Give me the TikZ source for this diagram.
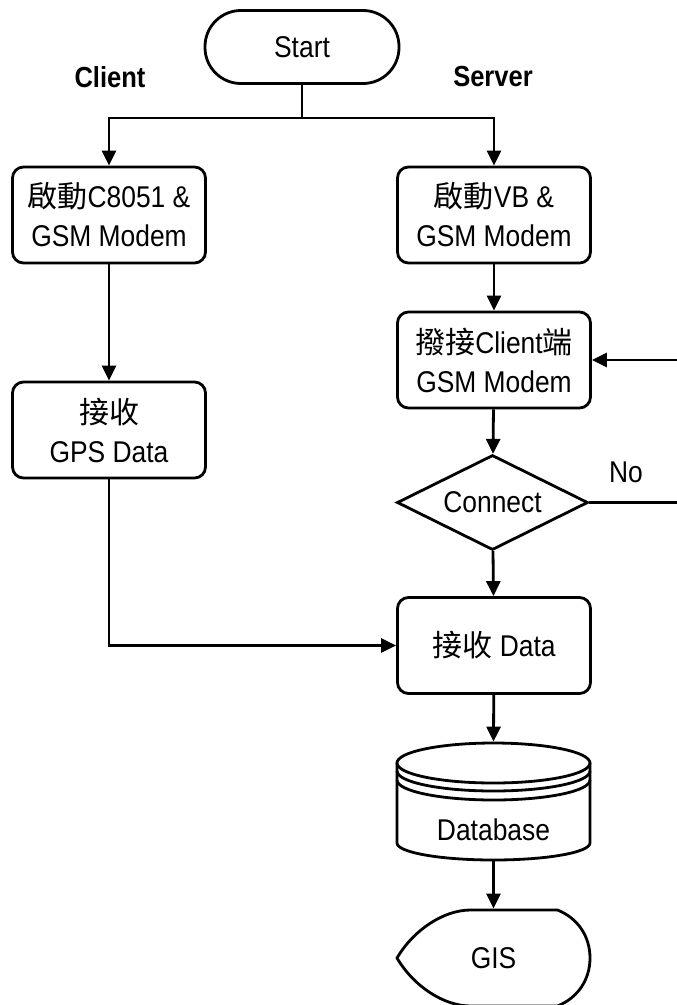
\documentclass[tikz,border=0pt]{standalone}
\usepackage{fontspec}
\setmainfont{Liberation Sans}[FakeStretch=0.88]
\newfontfamily\cjk{Noto Sans CJK TC}
\usetikzlibrary{arrows.meta,shapes.geometric}
\begin{document}
\begin{tikzpicture}[x=1pt,y=-1pt,line width=2.8pt,
  arr/.style={-{Triangle[length=15pt,width=14pt]}},
  txt/.style={font=\fontsize{30}{39}\selectfont},
  proc/.style={txt,draw,rounded corners=11pt,minimum width=193pt,minimum height=96pt,align=center,inner sep=0pt},
  term/.style={txt,draw,rounded corners=36pt,minimum width=194pt,minimum height=73pt,inner sep=0pt},
  dec/.style={txt,draw,diamond,shape aspect=2,minimum width=191pt,minimum height=95pt,inner sep=0pt},
  lbl/.style={font=\fontsize{29}{34}\selectfont\bfseries},
  blank/.style={inner sep=0pt,txt}]
\useasboundingbox (0,0) rectangle (677,1005);
\node[term] (start) at (302,47) {Start};
\node[lbl] (client) at (110,77) {Client};
\node[lbl] (server) at (493,77) {Server};
\node[proc] (c1) at (109,215) {{\cjk 啟動}C8051 \&\\GSM Modem};
\node[proc] (s1) at (494,215) {{\cjk 啟動}VB \&\\GSM Modem};
\node[proc] (c2) at (109,430) {{\cjk 接收}\\GPS Data};
\node[proc] (s2) at (494,360) {{\cjk 撥接}Client{\cjk 端}\\GSM Modem};
\node[dec] (conn) at (492.5,502.5) {Connect};
\node[txt] (no) at (626,472) {No};
\node[proc] (s3) at (494,645.5) {{\cjk 接收} Data};
\node[blank,minimum width=193pt,minimum height=117pt] (db) at (493.5,801.5) {};
\node[blank,minimum width=193pt,minimum height=96pt] (gis) at (493.5,958) {};
\begin{scope}[shift={(db.center)}]
  \draw (0,-38.5) ellipse [x radius=96.5pt, y radius=20pt];
  \draw (-96.5,-30.5) arc[start angle=180, end angle=360, x radius=96.5pt, y radius=20pt];
  \draw (-96.5,-21.5) arc[start angle=180, end angle=360, x radius=96.5pt, y radius=20pt];
  \draw (-96.5,-38.5) -- (-96.5,41.5) arc[start angle=180, end angle=360, x radius=96.5pt, y radius=17pt] -- (96.5,-38.5);
  \node[txt] (dbt) at (0,28) {Database};
\end{scope}
\begin{scope}[shift={(gis.center)}]
  \draw (-96.5,0) .. controls (-80,-28) and (-50,-48) .. (-23,-48) -- (64,-48)
    .. controls (84,-40) and (96.5,-22) .. (96.5,0)
    .. controls (96.5,22) and (84,40) .. (64,48) -- (-23,48)
    .. controls (-50,48) and (-80,28) .. (-96.5,0) -- cycle;
  \node[txt] (gist) at (0,0) {GIS};
\end{scope}
\coordinate (j) at (302,118);
\coordinate (lp) at (720,502.5);
\draw (start) -- (j);
\draw[arr] (j) -| (c1.north);
\draw[arr] (j) -| (s1.north);
\draw[arr] (c1) -- (c2);
\draw[arr] (s1) -- (s2);
\draw[arr] (s2) -- (conn);
\draw[arr] (conn) -- (s3);
\draw[arr] (c2.south) |- (s3.west);
\draw[arr] (conn.east) -- (lp) |- (s2.east);
\draw[arr] (s3) -- (db.north);
\draw[arr] (db.south) -- (gis.north);
\end{tikzpicture}
\end{document}
